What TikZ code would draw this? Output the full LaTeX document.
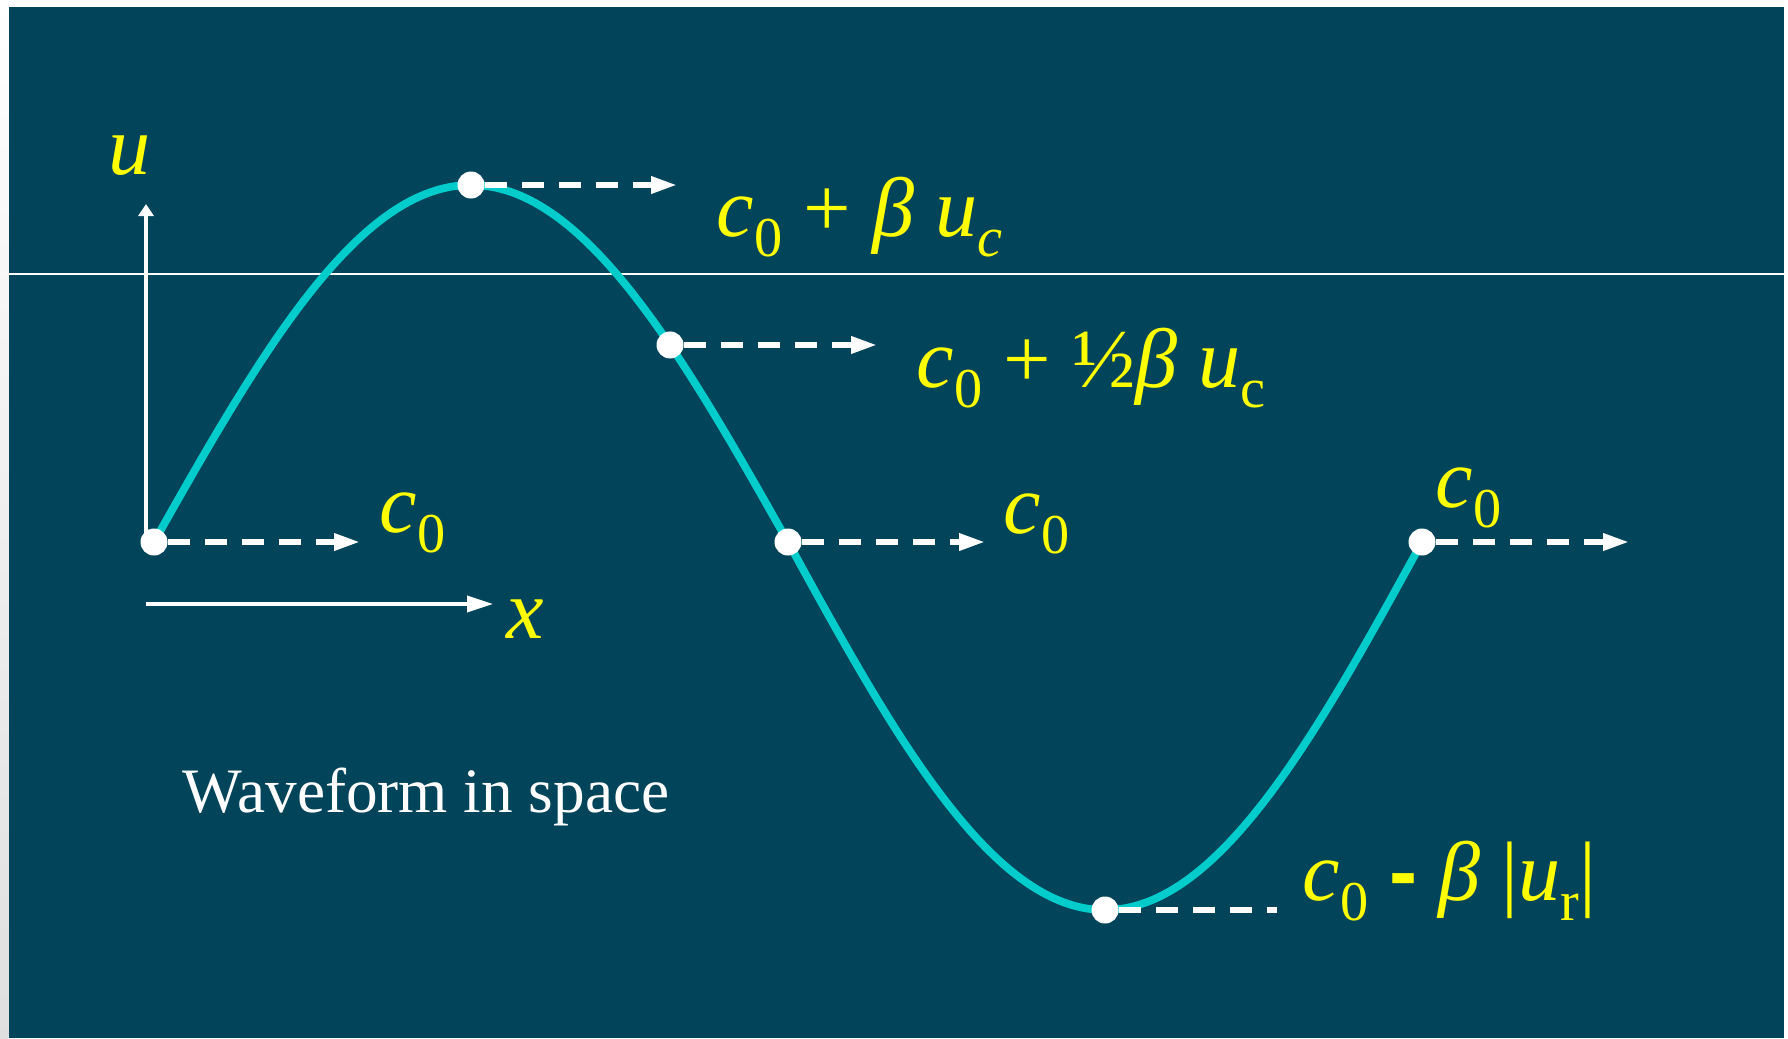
\documentclass[tikz,border=0pt]{standalone}
\usepackage{fontspec}
\setmainfont{Liberation Serif}
\newfontfamily\hyphfont{Liberation Sans}
\usetikzlibrary{arrows.meta, positioning}
\definecolor{slate}{RGB}{2,68,89}
\definecolor{wavecyan}{RGB}{0,204,204}
\definecolor{lblyellow}{RGB}{255,255,0}
\tikzset{
	lbl/.style={font=\fontsize{24}{28}\selectfont\itshape, text=lblyellow, inner sep=0pt, anchor=base west}
}
\tikzset{
	wavedot/.style={circle, fill=white, inner sep=0pt, minimum size=0.27cm}
}
\tikzset{
	dasharrow/.style={white, line width=1.7pt, dash pattern=on 0.22cm off 0.15cm}
}
\newcommand{\sbs}[1]{\raisebox{-0.24em}{\fontsize{16}{16}\selectfont\upshape #1}}
\newcommand{\sbi}[1]{\raisebox{-0.24em}{\fontsize{16}{16}\selectfont\itshape #1}}

\begin{document}
\begin{tikzpicture}[>={Triangle[length=0.26cm, width=0.16cm]}]
      \useasboundingbox (0,0) rectangle (17.88,10.38);
      \shade[top color=white, bottom color=gray!25] (0,0) rectangle (0.09,10.38);
      \fill[slate] (0.09,0) rectangle (17.84,10.31);
      \draw[white, line width=0.5pt] (0.09,7.64) -- (17.84,7.64);

      % axes
      \coordinate (orig) at (1.46,4.96);
      \coordinate (utip) at (1.46,8.34);
      \coordinate (xfoot) at (1.46,4.34);
      \coordinate (xtip) at (4.93,4.34);
      \draw[white, line width=0.9pt, -{Triangle[length=0.12cm, width=0.15cm]}] (orig) -- (utip);
      \draw[white, line width=1pt, ->] (xfoot) -- (xtip);
      \node[lbl] (ulbl) at (1.08,8.64) {u};
      \node[lbl] (xlbl) at (5.06,4.00) {x};

      % the waveform
      \draw[wavecyan, line width=2.2pt] plot[domain=0:360, samples=121, smooth] ({1.54+12.68*\x/360},{4.96+3.625*sin(\x)-0.055*abs(sin(\x))});

      \node[wavedot] (startpt) at (1.54,4.96) {};
      \node[wavedot] (crest) at (4.71,8.53) {};
      \node[wavedot] (halfway) at ({1.54+12.68*146.5/360},{4.96+3.57*sin(146.5)}) {};
      \node[wavedot] (midpt) at (7.88,4.96) {};
      \node[wavedot] (trough) at (11.05,1.28) {};
      \node[wavedot] (endpt) at (14.22,4.96) {};

      \coordinate[right=1.92cm of startpt] (startgo);
      \coordinate[right=1.92cm of crest] (crestgo);
      \coordinate[right=1.93cm of halfway] (halfgo);
      \coordinate[right=1.83cm of midpt] (midgo);
      \coordinate[right=1.58cm of trough] (troughgo);
      \coordinate[right=1.93cm of endpt] (endgo);

      \draw[dasharrow, ->] (startpt.east) -- (startgo);
      \draw[dasharrow, ->] (crest.east) -- (crestgo);
      \draw[dasharrow, ->] (halfway.east) -- (halfgo);
      \draw[dasharrow, ->] (midpt.east) -- (midgo);
      \draw[dasharrow] (trough.east) -- (troughgo);
      \draw[dasharrow, ->] (endpt.east) -- (endgo);

      % speeds
      \node[lbl] (crestlbl) at (7.16,8.02) {c\sbs{0} {\upshape+} β u\sbi{c}};
      \node[lbl] (halflbl) at (9.16,6.51) {c\sbs{0} {\upshape+ ½}β u\sbs{c}};
      \node[lbl] (startlbl) at (3.79,5.06) {c\sbs{0}};
      \node[lbl] (midlbl) at (10.03,5.05) {c\sbs{0}};
      \node[lbl] (endlbl) at (14.35,5.31) {c\sbs{0}};
      \node[lbl] (troughlbl) at (13.02,1.38) {c\sbs{0} {\hyphfont\bfseries\upshape -} β {\upshape|}u\sbs{r}{\upshape|}};

      \node[font=\fontsize{18}{20}\selectfont, text=white, inner sep=0pt, anchor=base west] (caption) at (1.82,2.26) {Waveform in space};
    \end{tikzpicture}
\end{document}
